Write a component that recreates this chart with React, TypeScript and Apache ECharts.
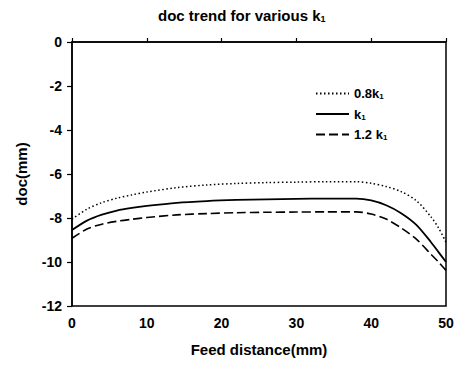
import React, { useEffect, useRef } from "react";
import * as echarts from "echarts";

const xValues = [0, 2, 4, 6, 8, 10, 14, 18, 22, 26, 30, 34, 38, 40, 42, 44, 46, 48, 49, 50];
const doc08 = [-8.05, -7.6, -7.3, -7.1, -6.95, -6.82, -6.62, -6.5, -6.43, -6.39, -6.37, -6.35, -6.35, -6.42, -6.57, -6.8, -7.2, -7.95, -8.45, -9.1];
const doc10 = [-8.55, -8.12, -7.85, -7.66, -7.54, -7.45, -7.31, -7.23, -7.18, -7.15, -7.13, -7.12, -7.12, -7.2, -7.42, -7.78, -8.3, -9.1, -9.55, -10.0];
const doc12 = [-8.92, -8.5, -8.28, -8.15, -8.06, -7.98, -7.86, -7.8, -7.76, -7.74, -7.73, -7.72, -7.72, -7.82, -8.05, -8.45, -8.95, -9.65, -10.0, -10.38];
const seriesNames = ["0.8k1", "k1", "1.2 k1"];
const legendLabels: Record<string, string> = {
  "0.8k1": "0.8k{sub|1}",
  k1: "k{sub|1}",
  "1.2 k1": "1.2 k{sub|1}",
};

const font = "'Liberation Sans', Arial, sans-serif";

export default function App() {
  const ref = useRef<HTMLDivElement>(null);
  useEffect(() => {
    if (!ref.current) return;
    const chart = echarts.init(ref.current, undefined, { renderer: "svg" });
    const mk = (vals: number[]) => xValues.map((x, i) => [x, vals[i]]);
    const lineTypes: any[] = [[1.5, 2.5], "solid", [9, 4]];
    const widths = [1.5, 1.8, 1.6];
    const datas = [doc08, doc10, doc12];
    chart.setOption({
      animation: false,
      backgroundColor: "#fff",
      title: {
        text: "doc trend for various k{sub|1}",
        left: 153,
        top: 2,
        textStyle: {
          fontFamily: font,
          fontWeight: "bold",
          fontSize: 15,
          color: "#000",
          rich: {
            sub: { fontSize: 9, fontWeight: "bold", verticalAlign: "bottom", padding: [7, 0, 0, 0], fontFamily: font, color: "#000" },
          },
        },
      },
      legend: {
        orient: "vertical",
        left: 310,
        top: 82,
        itemWidth: 33,
        itemHeight: 10,
        itemGap: 7,
        data: seriesNames,
        itemStyle: { opacity: 0 },
        formatter: (n: string) => legendLabels[n],
        textStyle: {
          fontFamily: font,
          fontWeight: "bold",
          fontSize: 13,
          color: "#000",
          rich: {
            sub: { fontSize: 8, fontWeight: "bold", verticalAlign: "bottom", padding: [6, 0, 0, 0], fontFamily: font, color: "#000" },
          },
        },
      },
      grid: {
        left: 72,
        right: 13,
        top: 42,
        bottom: 61,
        show: true,
        borderColor: "#000",
        borderWidth: 1.5,
        backgroundColor: "transparent",
      },
      xAxis: {
        type: "value",
        min: 0,
        max: 50,
        interval: 10,
        name: "Feed distance(mm)",
        nameLocation: "middle",
        nameGap: 36,
        nameTextStyle: { fontFamily: font, fontWeight: "bold", fontSize: 15, color: "#000" },
        axisLine: { show: true, lineStyle: { color: "#000", width: 1.5 } },
        axisTick: { show: true, inside: true, length: 4, lineStyle: { color: "#000", width: 1.2 } },
        axisLabel: { fontFamily: font, fontWeight: "bold", fontSize: 14, color: "#000", margin: 10 },
        splitLine: { show: false },
      },
      yAxis: {
        type: "value",
        min: -12,
        max: 0,
        interval: 2,
        name: "doc(mm)",
        nameLocation: "middle",
        nameGap: 43,
        nameTextStyle: { fontFamily: font, fontWeight: "bold", fontSize: 15, color: "#000" },
        axisLine: { show: true, lineStyle: { color: "#000", width: 1.5 } },
        axisTick: { show: true, inside: false, length: 5, lineStyle: { color: "#000", width: 1.2 } },
        axisLabel: { fontFamily: font, fontWeight: "bold", fontSize: 14, color: "#000", margin: 10 },
        splitLine: { show: false },
      },
      series: seriesNames.map((name, i) => ({
        name,
        type: "line",
        data: mk(datas[i]),
        smooth: 0.3,
        symbol: "none",
        color: "#000",
        lineStyle: { color: "#000", width: widths[i], type: lineTypes[i] },
      })),
    });
    return () => chart.dispose();
  }, []);
  return <div ref={ref} style={{ width: 459, height: 367, position: "absolute", left: 0, top: 0 }} />;
}
